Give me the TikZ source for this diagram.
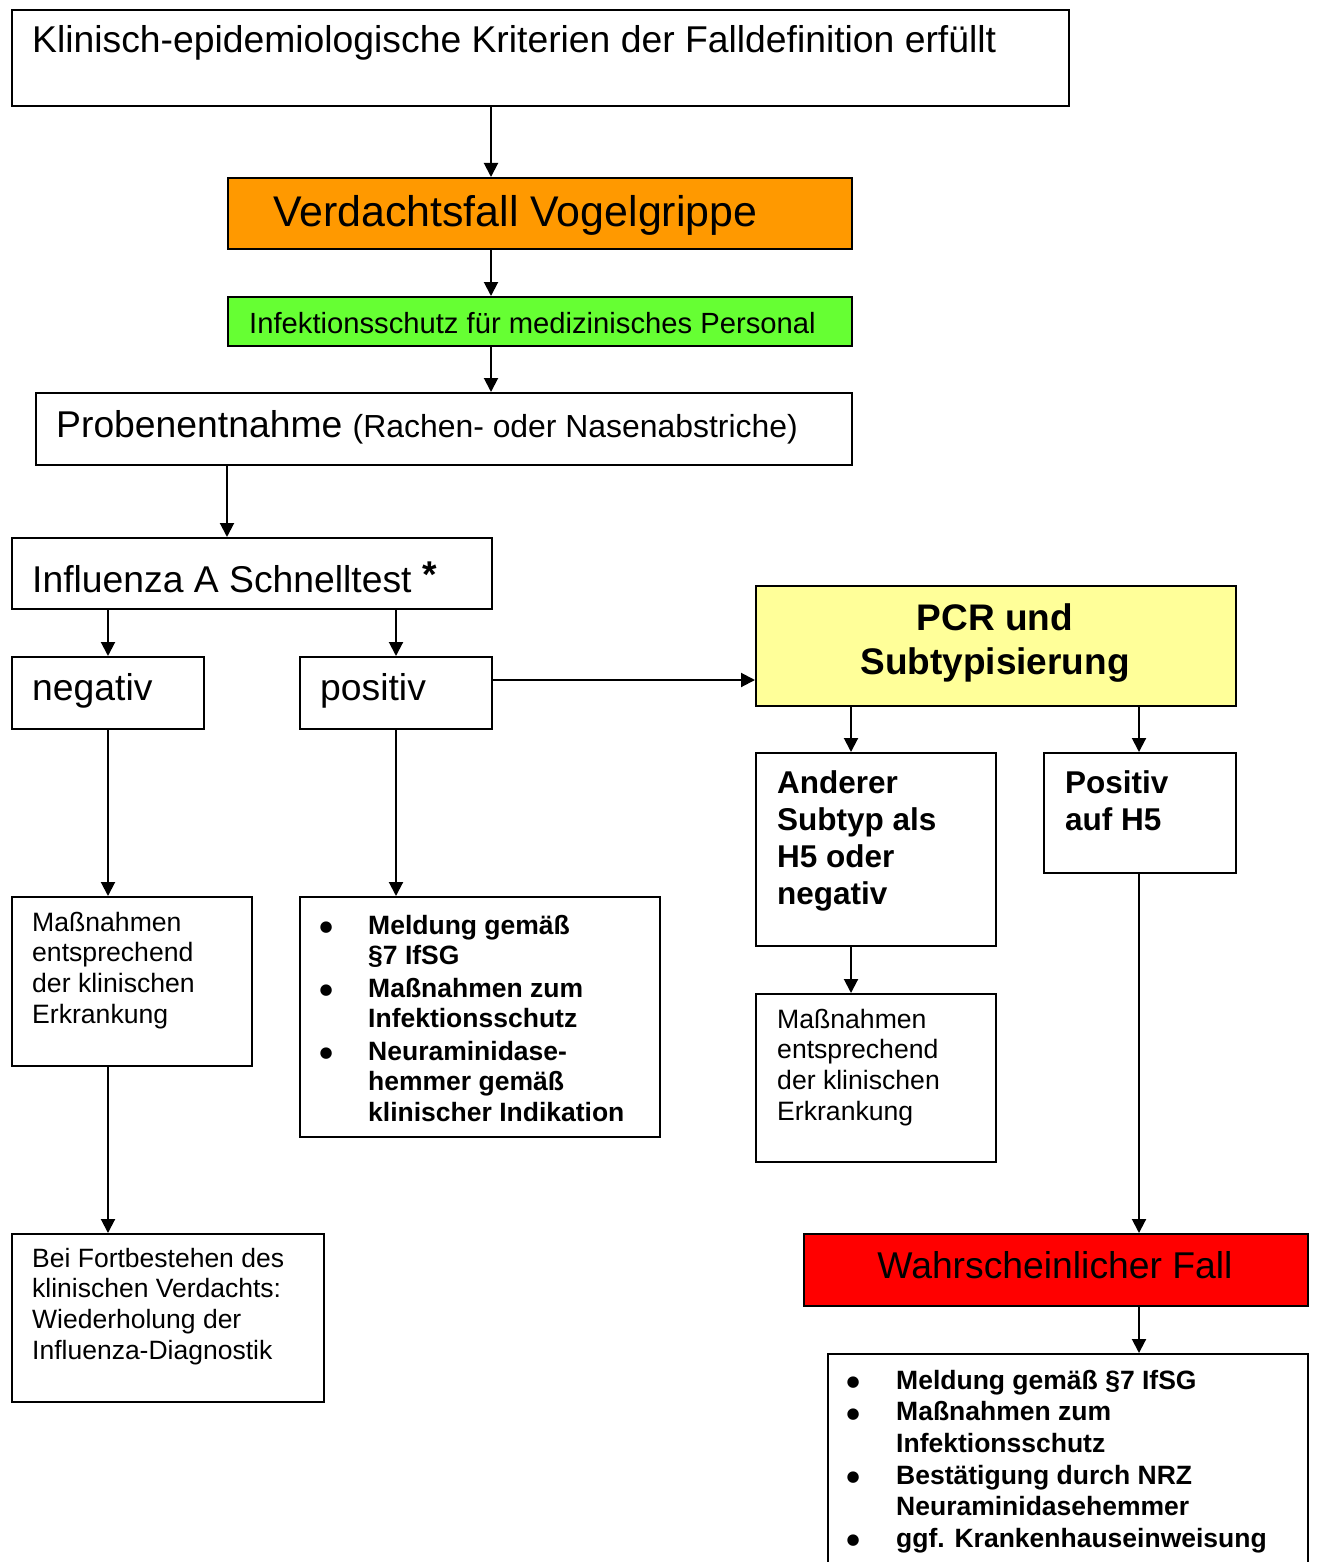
\documentclass[tikz,border=0pt]{standalone}
\usepackage{fontspec}
\setmainfont{Liberation Sans}
\newfontfamily\dvs{DejaVu Sans}
\usetikzlibrary{arrows.meta}
\newcommand\fs[2]{\fontsize{#1pt}{#2pt}\selectfont}
\newcommand\bulglyph{\raisebox{2.5pt}{\dvs\fs{15}{15}●}}
\newcommand\bl[1]{\makebox[#1pt][l]{\makebox[20pt][c]{\bulglyph}}}
\newcommand\bx[6][]{\node[box,#1,minimum width={#5pt-#3pt},minimum height={#6pt-#4pt}] (#2) at (#3,#4) {};}
\definecolor{orng}{HTML}{FF9900}
\definecolor{grn}{HTML}{66FF33}
\definecolor{ylw}{HTML}{FFFF99}
\definecolor{rd}{HTML}{FF0000}
\begin{document}
\begin{tikzpicture}[x=1pt,y=-1pt,
  box/.style={draw,line width=2pt,inner sep=0pt,anchor=north west},
  arr/.style={line width=2pt,-{Triangle[width=14pt,length=14pt]}},
  txt/.style={inner sep=0pt,anchor=base west},
  mtxt/.style={inner sep=0pt,anchor=north west,align=left}]
\useasboundingbox (0,0) rectangle (1316,1562);
\clip (0,0) rectangle (1316,1562);
\fill[white] (0,0) rectangle (1316,1562);
% boxes
\bx{b1}{11}{9}{1068}{105}
\bx[fill=orng]{b2}{227}{177}{851}{248}
\bx[fill=grn]{b3}{227}{296}{851}{345}
\bx{b4}{35}{392}{851}{464}
\bx{b5}{11}{537}{491}{608}
\bx{neg}{11}{656}{203}{728}
\bx{pos}{299}{656}{491}{728}
\bx[fill=ylw]{pcr}{755}{585}{1235}{705}
\bx{and}{755}{752}{995}{945}
\bx{ph5}{1043}{752}{1235}{872}
\bx{mr}{755}{993}{995}{1161}
\bx[fill=rd]{red}{803}{1233}{1307}{1305}
\bx{lst}{827}{1353}{1307}{1620}
\bx{ml}{11}{896}{251}{1065}
\bx{bei}{11}{1233}{323}{1401}
\bx{pl}{299}{896}{659}{1136}
% texts
\node[txt,font=\fs{37.3}{44}] (t1) at (32,53) {Klinisch-epidemiologische Kriterien der Falldefinition erfüllt};
\node[txt,font=\fs{42.9}{50}] (t2) at (273,227) {Verdachtsfall Vogelgrippe};
\node[txt,font=\fs{29.2}{34}] (t3) at (249,333) {Infektionsschutz für medizinisches Personal};
\node[txt,font=\fs{37.3}{44}] (t4) at (56,437) {Probenentnahme {\fs{31.9}{37}(Rachen- oder Nasenabstriche)}};
\node[txt,font=\fs{37.3}{44}] (t5) at (32,592) {Influenza A Schnelltest \raisebox{5pt}{\bfseries *}};
\node[txt,font=\fs{37.3}{44}] (t6) at (32,700) {negativ};
\node[txt,font=\fs{37.3}{44}] (t7) at (320,700) {positiv};
\node[inner sep=0pt,anchor=north,align=center,font=\bfseries\fs{37}{44}] (t8) at (995,600) {\rule{0pt}{30pt}PCR und\\Subtypisierung};
\node[mtxt,font=\bfseries\fs{31.5}{37}] (t9) at (777,767) {\rule{0pt}{26pt}Anderer\\Subtyp als\\H5 oder\\negativ};
\node[mtxt,font=\bfseries\fs{31.5}{37}] (t10) at (1065,767) {\rule{0pt}{26pt}Positiv\\auf H5};
\node[mtxt,font=\fs{26.6}{30.7}] (t11) at (777,1007) {\rule{0pt}{21pt}Maßnahmen\\entsprechend\\der klinischen\\Erkrankung};
\node[inner sep=0pt,anchor=base,font=\fs{37.3}{44}] (t12) at (1055,1278) {Wahrscheinlicher Fall};
\node[mtxt,font=\bfseries\fs{26.5}{31.6}] (t13) at (843,1368) {\rule{0pt}{21pt}\bl{53}Meldung gemäß §7 IfSG\\
  \bl{53}Maßnahmen zum\\
  \hspace*{53pt}Infektionsschutz\\
  \bl{53}Bestätigung durch NRZ\\
  \hspace*{53pt}Neuraminidasehemmer\\
  \bl{53}ggf. Krankenhauseinweisung};
\node[mtxt,font=\fs{26.6}{30.7}] (t14) at (32,910) {\rule{0pt}{21pt}Maßnahmen\\entsprechend\\der klinischen\\Erkrankung};
\node[mtxt,font=\fs{26.5}{30.7}] (t15) at (32,1246) {\rule{0pt}{21pt}Bei Fortbestehen des\\klinischen Verdachts:\\Wiederholung der\\Influenza-Diagnostik};
\node[mtxt,font=\bfseries\fs{26.5}{30.5}] (t16) at (316,913) {\rule{0pt}{21pt}\bl{52}Meldung gemäß\\
  \hspace*{52pt}§7 IfSG\\[2pt]
  \bl{52}Maßnahmen zum\\
  \hspace*{52pt}Infektionsschutz\\[2pt]
  \bl{52}Neuraminidase-\\
  \hspace*{52pt}hemmer gemäß\\
  \hspace*{52pt}klinischer Indikation};
% coordinates
\coordinate (x491) at (491,0);
\coordinate (x227) at (227,0);
\coordinate (x851) at (851,0);
\coordinate (x1139) at (1139,0);
\coordinate (y680) at (0,680);
% connectors
\draw[arr] (b1.south -| x491) -- (b2.north -| x491);
\draw[arr] (b2.south -| x491) -- (b3.north -| x491);
\draw[arr] (b3.south -| x491) -- (b4.north -| x491);
\draw[arr] (b4.south -| x227) -- (b5.north -| x227);
\draw[arr] (b5.south -| neg.north) -- (neg.north);
\draw[arr] (b5.south -| pos.north) -- (pos.north);
\draw[arr] (pos.east |- y680) -- (pcr.west |- y680);
\draw[arr] (pcr.south -| x851) -- (and.north -| x851);
\draw[arr] (pcr.south -| x1139) -- (ph5.north -| x1139);
\draw[arr] (and.south -| x851) -- (mr.north -| x851);
\draw[arr] (ph5.south -| x1139) -- (red.north -| x1139);
\draw[arr] (red.south -| x1139) -- (lst.north -| x1139);
\draw[arr] (neg.south) -- (ml.north -| neg.south);
\draw[arr] (ml.south -| neg.south) -- (bei.north -| neg.south);
\draw[arr] (pos.south) -- (pl.north -| pos.south);
\end{tikzpicture}
\end{document}
